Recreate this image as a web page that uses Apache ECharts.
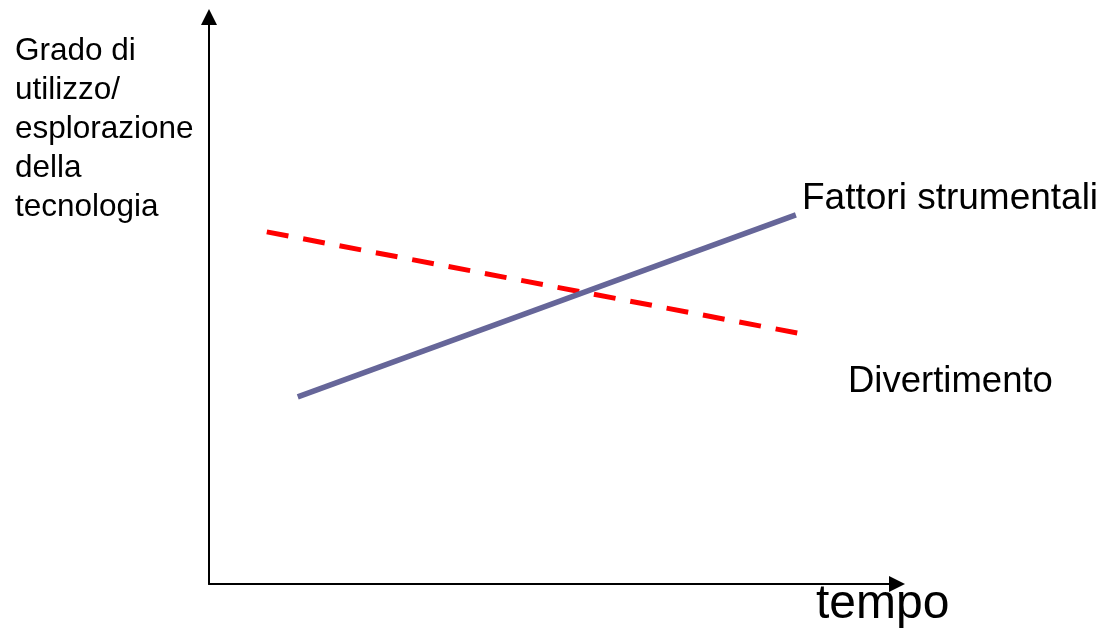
<!DOCTYPE html>
<html>
<head>
<meta charset="utf-8">
<script src="https://cdn.jsdelivr.net/npm/echarts@6/dist/echarts.min.js"></script>
<style>html,body{margin:0;padding:0;background:#fff;}#c{width:1103px;height:630px;}</style>
</head>
<body>
<div id="c"></div>
<script>
// Data (abstract 0..100 scale)
var seriesNames = ['Fattori strumentali', 'Divertimento'];
var strumentali = [[12.9, 33.0], [85.3, 65.1]];
var divertimento = [[8.4, 62.1], [86.2, 44.1]];
var yAxisLabel = 'Grado di\nutilizzo/\nesplorazione\ndella\ntecnologia';
var xAxisLabel = 'tempo';

var chart = echarts.init(document.getElementById('c'), null, {renderer: 'canvas'});
var font = 'Liberation Sans, Arial, sans-serif';
chart.setOption({
  animation: false,
  backgroundColor: '#fff',
  grid: {left: 209, right: 206, top: 17, bottom: 46, containLabel: false},
  xAxis: {
    type: 'value', min: 0, max: 100,
    axisLine: {show: true, symbol: ['none', 'triangle'], symbolSize: [16, 16], lineStyle: {color: '#000', width: 2}},
    axisTick: {show: false}, axisLabel: {show: false}, splitLine: {show: false}
  },
  yAxis: {
    type: 'value', min: 0, max: 100,
    axisLine: {show: true, symbol: ['none', 'triangle'], symbolSize: [16, 16], lineStyle: {color: '#000', width: 2}},
    axisTick: {show: false}, axisLabel: {show: false}, splitLine: {show: false}
  },
  series: [
    {
      name: seriesNames[1], type: 'line', data: divertimento, showSymbol: false, z: 2,
      lineStyle: {color: '#ff0000', width: 5, type: [22, 15], cap: 'butt'}
    },
    {
      name: seriesNames[0], type: 'line', data: strumentali, showSymbol: false, z: 3,
      lineStyle: {color: '#666699', width: 5.5, cap: 'butt'}
    }
  ],
  graphic: [
    {type: 'text', left: 15, top: 32, style: {text: yAxisLabel, font: '31.5px ' + font, fill: '#000', lineHeight: 39}},
    {type: 'text', x: 802, y: 199, style: {text: seriesNames[0], font: '37px ' + font, fill: '#000', verticalAlign: 'middle'}},
    {type: 'text', x: 848, y: 382, style: {text: seriesNames[1], font: '36.5px ' + font, fill: '#000', verticalAlign: 'middle'}},
    {type: 'text', x: 816, y: 605, style: {text: xAxisLabel, font: '48px ' + font, fill: '#000', verticalAlign: 'middle'}}
  ]
});
</script>
</body>
</html>
